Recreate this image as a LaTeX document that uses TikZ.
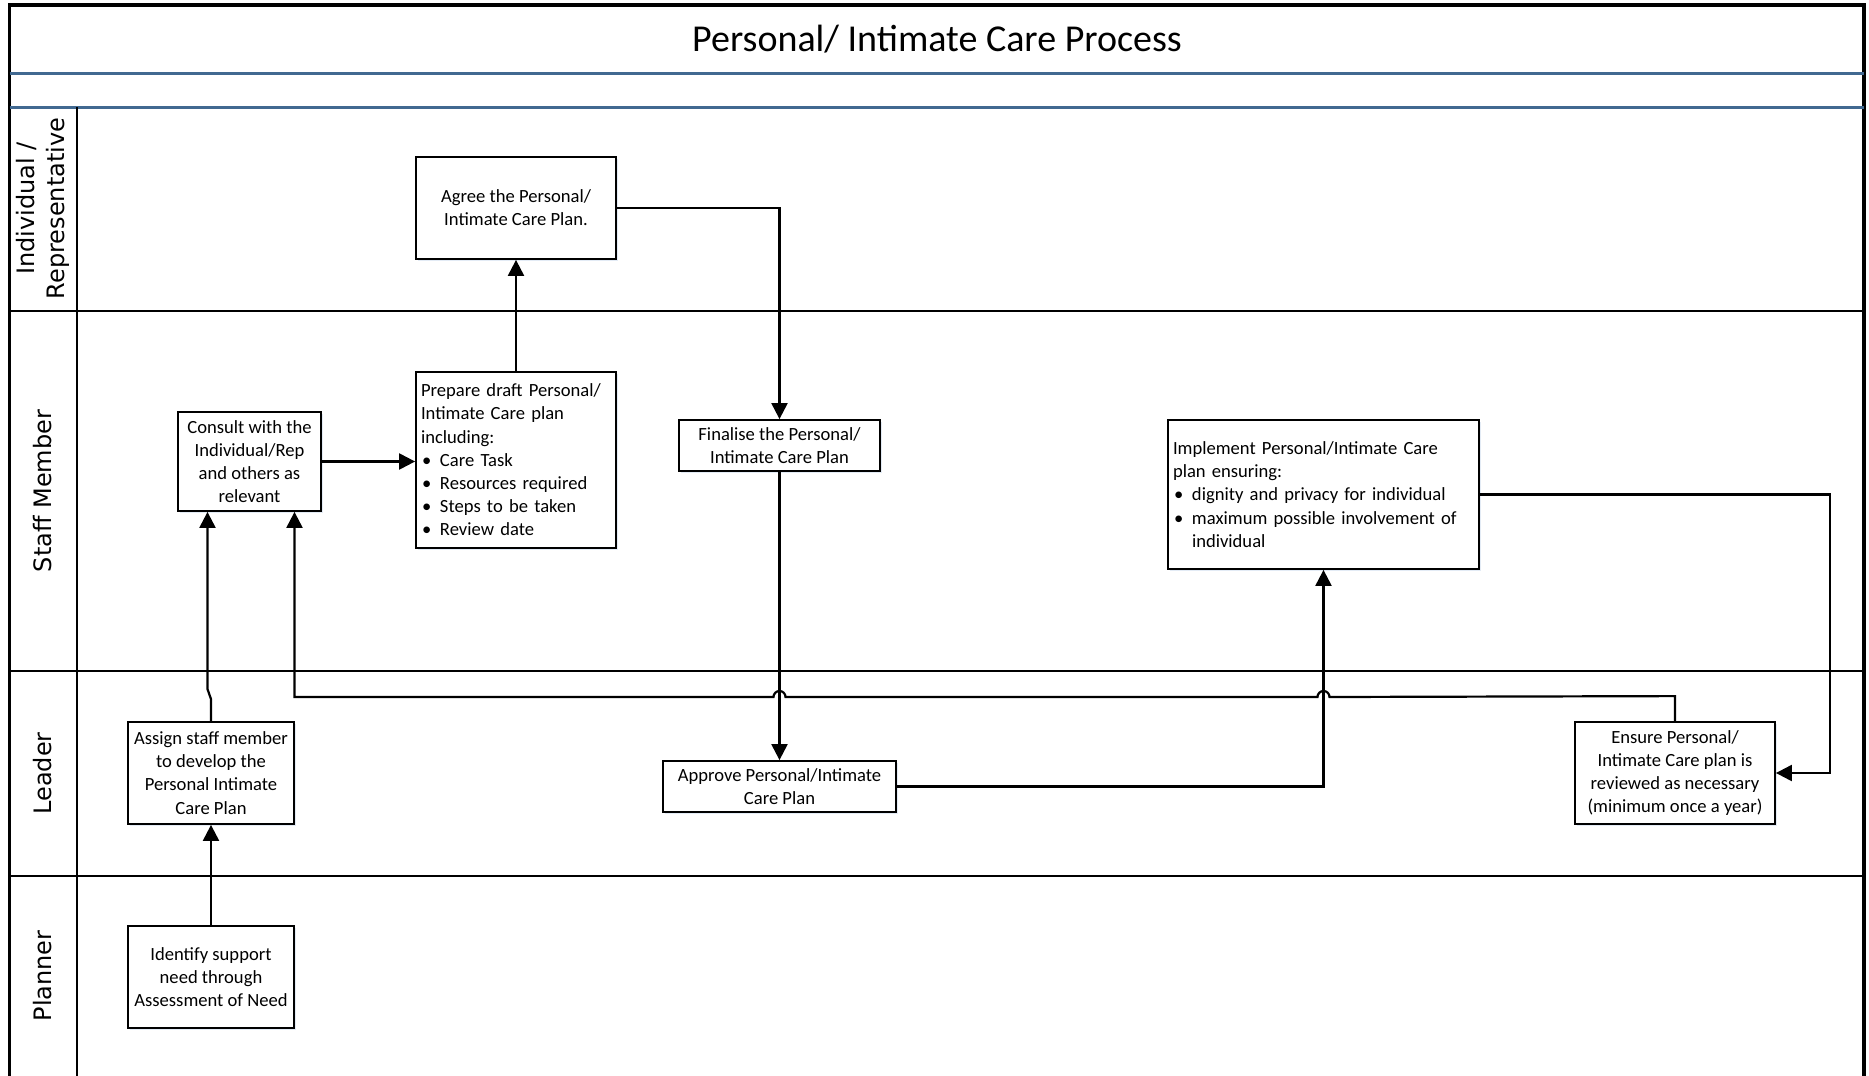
\documentclass[tikz,border=0pt]{standalone}
\usepackage{fontspec}
\setmainfont{Carlito}
\newfontfamily\lanefont{DejaVu Sans}
\usetikzlibrary{arrows.meta,shadows}
\definecolor{bandblue}{RGB}{65,105,145}
\definecolor{shadowblue}{RGB}{200,215,235}

\newcommand{\itm}{\makebox[9.5pt][l]{\hspace{0.5pt}\textbullet}}

\begin{document}
\begin{tikzpicture}[x=0.5pt, y=-0.5pt,
  task/.style={draw, line width=0.9pt, fill=white, inner xsep=2.5pt, inner ysep=1pt,
    font=\fontsize{9.3}{11.6}\selectfont, align=center,
    drop shadow={shadow xshift=1pt, shadow yshift=-1.2pt, fill=shadowblue}},
  lanelabel/.style={rotate=90, font=\lanefont\fontsize{12}{15}\selectfont, align=center},
  lane/.style={line width=1.2pt},
  flow/.style={line width=1.1pt, -{Triangle[length=8pt,width=8pt]}}]
  \useasboundingbox (0,0) rectangle (1869,1076);

  % frame, title and lanes
  \draw[line width=1.6pt] (9.5,1076) -- (9.5,5) -- (1864,5) -- (1864,1076);
  \draw[bandblue, line width=1.5pt] (9.5,73) -- (1864,73) (9.5,107) -- (1864,107);
  \foreach \y in {311,671,876}
    \draw[lane] (9.5,\y) -- (1864,\y);
  \draw[lane] (77,107) -- (77,1076);
  \node[font=\fontsize{19}{22}\selectfont] (title) at (937,39) {Personal/ Intimate Care Process};

  \node[lanelabel] (lindiv) at (43,208.5) {Individual /\\Representative};
  \node[lanelabel] (lstaff) at (43,491) {Staff Member};
  \node[lanelabel] (lleader) at (43,773.5) {Leader};
  \node[lanelabel] (lplanner) at (43,976) {Planner};

  % steps
  \node[task, minimum width=100pt, minimum height=51pt] (agree) at (516,208) {Agree the Personal/\\Intimate Care Plan.};
  \node[task, align=left, text width=95pt, minimum height=88pt] (prepare) at (516,460)
    {Prepare draft Personal/\\Intimate Care plan\\including:\\\itm Care Task\\\itm Resources required\\\itm Steps to be taken\\\itm Review date};
  \node[task, minimum width=71.5pt, minimum height=49.5pt] (consult) at (249.5,461.5) {Consult with the\\Individual/Rep\\and others as\\relevant};
  \node[task, minimum width=100.5pt, minimum height=25.5pt] (finalise) at (779.5,445.5) {Finalise the Personal/\\Intimate Care Plan};
  \node[task, align=left, text width=150.5pt, minimum height=74.5pt] (implement) at (1323.5,494.5)
    {Implement Personal/Intimate Care\\plan ensuring:\\\itm dignity and privacy for individual\\\itm maximum possible involvement of\\\hspace*{9.5pt}individual};
  \node[task, minimum width=83pt, minimum height=51pt] (assign) at (211,773) {Assign staff member\\to develop the\\Personal Intimate\\Care Plan};
  \node[task, minimum width=116.5pt, minimum height=25.5pt] (approve) at (779.5,786.5) {Approve Personal/Intimate\\Care Plan};
  \node[task, minimum width=100pt, minimum height=51pt] (ensure) at (1675,773) {Ensure Personal/\\Intimate Care plan is\\reviewed as necessary\\(minimum once a year)};
  \node[task, minimum width=83pt, minimum height=51pt] (identify) at (211,977) {Identify support\\need through\\Assessment of Need};

  % flow
  \draw[flow] (identify) -- (assign);
  \draw[flow] (assign.north) -- ++(0,-22) -- ++(-3.5,-10) -- ([xshift=-21pt]consult.south);
  \draw[flow] (consult.east) -- (consult.east -| prepare.west);
  \draw[flow] (prepare) -- (agree);
  \draw[flow] (agree.east) -| (finalise.north);
  \draw[flow] (finalise) -- (approve);
  \draw[flow] (approve.east) -| (implement.south);
  \draw[flow] (implement.east) -- ++(350,0) |- (ensure.east);
  \draw[flow] (ensure.north) -- ++(0,-25) -- (1329.5,697) arc (0:180:3pt)
    -- (785.5,697) arc (0:180:3pt) -| ([xshift=22.5pt]consult.south);
\end{tikzpicture}
\end{document}
